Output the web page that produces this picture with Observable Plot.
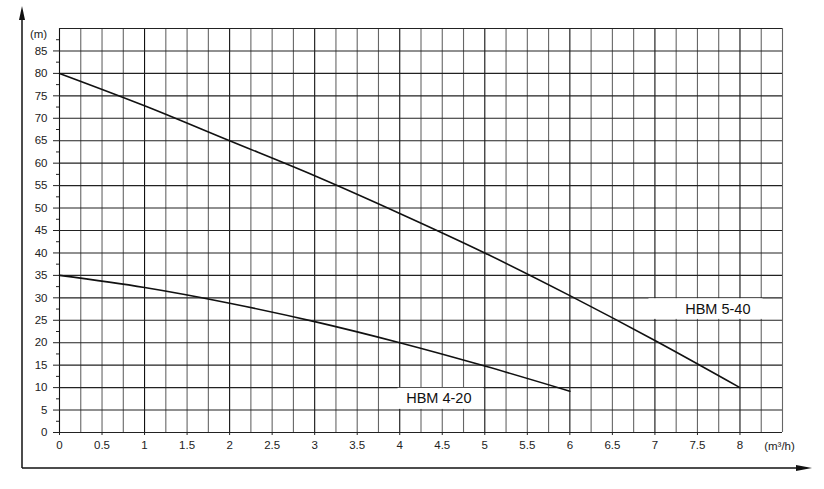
<!DOCTYPE html>
<html><head><meta charset="utf-8">
<script src="https://cdn.jsdelivr.net/npm/d3@7"></script>
<script src="https://cdn.jsdelivr.net/npm/@observablehq/plot@0.6"></script>
<style>body{margin:0;background:#fff;}</style>
</head><body><div id="chart"></div>
<script>
// Data
const flow540 = [0, 1, 2, 3, 4, 5, 6, 7, 8];
const head540 = [80, 72.8, 65, 57.2, 48.8, 40, 30.5, 20.5, 10];
const flow420 = [0, 1, 2, 3, 4, 5, 6];
const head420 = [35, 32.3, 28.8, 24.7, 20, 14.8, 9.2];
const xTicks = [0, 0.5, 1, 1.5, 2, 2.5, 3, 3.5, 4, 4.5, 5, 5.5, 6, 6.5, 7, 7.5, 8];
const yTicks = [0, 5, 10, 15, 20, 25, 30, 35, 40, 45, 50, 55, 60, 65, 70, 75, 80, 85];
const seriesNames = ["HBM 5-40", "HBM 4-20"];
const labelX = [7.74, 4.46];
const labelY = [27.5, 7.5];
const boxX1 = [6.93, 3.98];
const boxX2 = [8.27, 4.99];
const boxY1 = [25.2, 5.15];
const boxY2 = [29.8, 9.85];

const curve540 = flow540.map((x, i) => ({x, y: head540[i]}));
const curve420 = flow420.map((x, i) => ({x, y: head420[i]}));
const labels = seriesNames.map((name, i) => ({name, x: labelX[i], y: labelY[i], x1: boxX1[i], x2: boxX2[i], y1: boxY1[i], y2: boxY2[i]}));
const xGrid = d3.range(0, 8.5001, 0.25);
const yGrid = d3.range(0, 90.001, 5);
const yMinor = d3.range(2.5, 90, 5);

const arrows = () => (index, scales, values, dim) => {
  const g = d3.create("svg:g");
  const ax = 22, by = 468;
  g.append("line").attr("x1", ax).attr("x2", ax).attr("y1", by).attr("y2", 16).attr("stroke", "#111").attr("stroke-width", 1.5);
  g.append("path").attr("d", `M${ax},6L${ax-3},20L${ax+3},20Z`).attr("fill", "#111");
  g.append("line").attr("x1", ax).attr("x2", dim.width - 20).attr("y1", by).attr("y2", by).attr("stroke", "#111").attr("stroke-width", 1.5);
  g.append("path").attr("d", `M${dim.width-12},${by}L${dim.width-28},${by-3}L${dim.width-28},${by+3}Z`).attr("fill", "#111");
  return g.node();
};

const chart = Plot.plot({
  width: 824,
  height: 489,
  marginLeft: 59,
  marginRight: 42,
  marginTop: 28,
  marginBottom: 57,
  x: {domain: [0, 8.5]},
  y: {domain: [0, 90]},
  style: {fontFamily: "'Liberation Sans', Arial, sans-serif", fontSize: "11.5px", color: "#222", background: "#fff"},
  marks: [
    Plot.ruleX(xGrid, {stroke: d => d % 1 === 0 ? "#111" : "#666", strokeWidth: 1.1}),
    Plot.ruleY(yGrid, {stroke: "#222", strokeWidth: 1.1}),
    Plot.axisX({ticks: xTicks, tickSize: 3, tickPadding: 5, label: null, tickFormat: d => String(d), stroke: "#222"}),
    Plot.axisY({ticks: yTicks, tickSize: 6, tickPadding: 6, label: null, tickFormat: d => String(d), stroke: "#222"}),
    Plot.axisY({ticks: yMinor, tickSize: 3, tickFormat: () => "", label: null, stroke: "#222"}),
    Plot.line(curve540, {x: "x", y: "y", curve: "monotone-x", stroke: "#111", strokeWidth: 1.6}),
    Plot.line(curve420, {x: "x", y: "y", curve: "monotone-x", stroke: "#111", strokeWidth: 1.6}),
    Plot.rect(labels, {x1: "x1", x2: "x2", y1: "y1", y2: "y2", fill: "#fff"}),
    Plot.text(labels, {x: "x", y: "y", text: "name", fontSize: 14.5, fill: "#111"}),
    Plot.text(["(m)"], {frameAnchor: "top-left", text: d => d, dx: -21, dy: 6, lineAnchor: "middle", textAnchor: "middle", fontSize: 11.5, fill: "#222"}),
    Plot.text(["(m³/h)"], {frameAnchor: "bottom-right", text: d => d, dx: -3, dy: 14, lineAnchor: "middle", textAnchor: "middle", fontSize: 11.5, fill: "#222"}),
    arrows()
  ]
});
document.getElementById("chart").append(chart);
</script>
</body></html>
